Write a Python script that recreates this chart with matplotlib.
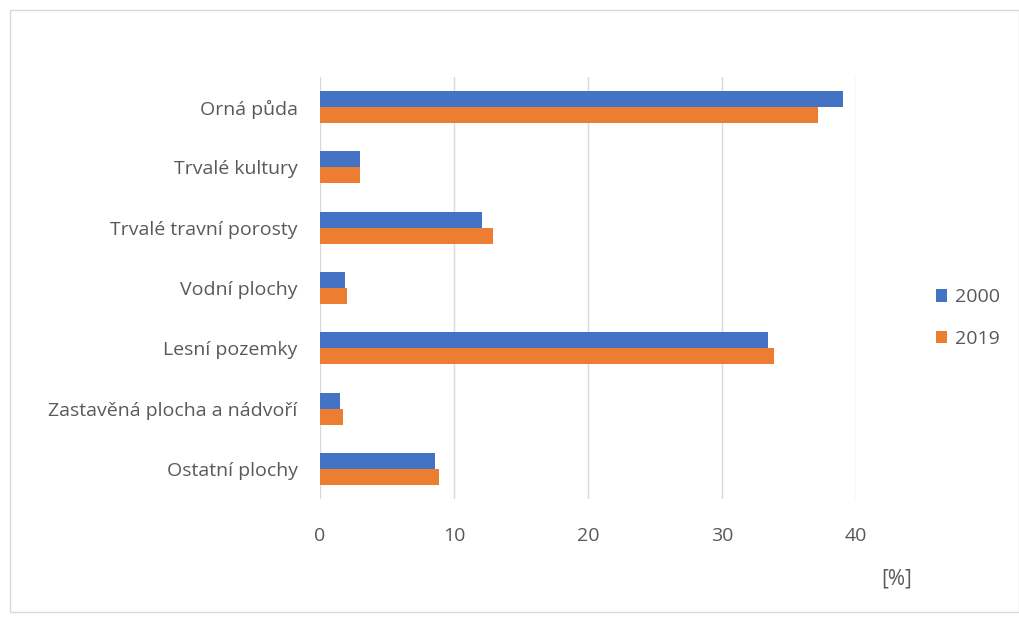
import matplotlib
matplotlib.use("Agg")
import matplotlib.pyplot as plt
import numpy as np
from matplotlib.patches import Rectangle

categories = ["Orná půda", "Trvalé kultury", "Trvalé travní porosty", "Vodní plochy",
              "Lesní pozemky", "Zastavěná plocha a nádvoří", "Ostatní plochy"]
values_2000 = [39.0, 3.0, 12.1, 1.9, 33.4, 1.5, 8.6]
values_2019 = [37.2, 3.0, 12.9, 2.0, 33.9, 1.7, 8.9]
series_names = ["2000", "2019"]
xticks = [0, 10, 20, 30, 40]

plt.rcParams['font.family'] = ['Open Sans', 'DejaVu Sans']
txt = "#595959"

fig = plt.figure(figsize=(10.19, 6.17), dpi=100)
fig.patches.append(Rectangle((10/1019, 5/617), 1 - 10/1019, 1 - 15/617, transform=fig.transFigure,
                             fill=False, edgecolor="#D9D9D9", linewidth=1.0))
ax = fig.add_axes([320/1019, 1 - 499/617, (856-320)/1019, (499-77)/617])

y = np.arange(len(categories))
h = 0.265
ax.barh(y - h/2, values_2000, height=h, color="#4472C4", label=series_names[0])
ax.barh(y + h/2, values_2019, height=h, color="#ED7D31", label=series_names[1])
ax.set_ylim(len(categories) - 0.5, -0.5)
ax.set_xlim(0, 40)
ax.set_yticks(y)
ax.set_yticklabels(categories, color=txt, fontsize=14)
ax.set_xticks(xticks)
ax.set_xticklabels([str(t) for t in xticks], color=txt, fontsize=14)
ax.tick_params(axis='both', length=0)
ax.tick_params(axis='x', pad=20)
ax.tick_params(axis='y', pad=16)
ax.grid(axis='x', color="#D9D9D9", linewidth=1)
ax.set_axisbelow(True)
for s in ax.spines.values():
    s.set_visible(False)

fig.text(897/1019, 1 - 579/617, "[%]", color=txt, fontsize=15, ha='center', va='center')
leg = fig.legend(loc='center left', bbox_to_anchor=(918/1019, 1 - 318/617), frameon=False,
                 fontsize=14, handlelength=0.6, handleheight=0.6, handletextpad=0.4,
                 labelspacing=1.2)
for t in leg.get_texts():
    t.set_color(txt)

fig.savefig("out.png", dpi=100)
